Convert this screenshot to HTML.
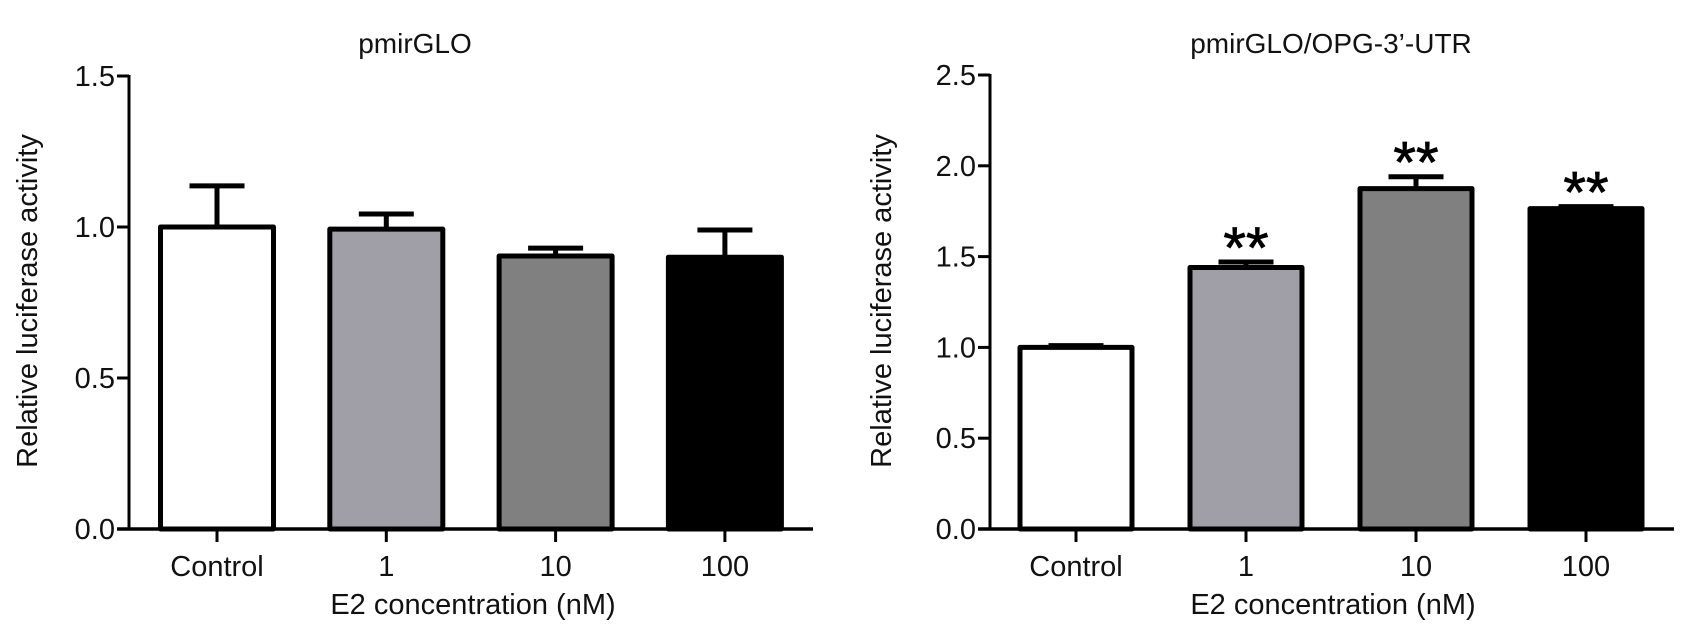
<!DOCTYPE html>
<html><head><meta charset="utf-8"><style>
html,body{margin:0;padding:0;background:#fff;}
svg{display:block;font-family:"Liberation Sans",Arial,sans-serif;}
</style></head><body>
<svg id="chart" width="1685" height="637" viewBox="0 0 1685 637" xmlns="http://www.w3.org/2000/svg"></svg>
<script>
const categories = ["Control","1","10","100"];
const leftValues = [1.0, 0.993, 0.904, 0.90];
const leftErrors = [1.136, 1.043, 0.93, 0.99];
const leftTicks = [0.0, 0.5, 1.0, 1.5];
const rightValues = [1.0, 1.44, 1.874, 1.764];
const rightErrors = [1.01, 1.47, 1.94, 1.775];
const rightTicks = [0.0, 0.5, 1.0, 1.5, 2.0, 2.5];
const rightSig = ["", "**", "**", "**"];
const fills = ["#ffffff","#a09fa7","#808080","#000000"];

const NS="http://www.w3.org/2000/svg";
const svg=document.getElementById('chart');
function mk(tag,attrs,parent){const e=document.createElementNS(NS,tag);for(const k in attrs)e.setAttribute(k,attrs[k]);(parent||svg).appendChild(e);return e;}

function panel(cfg){
  const g=mk('g',{});
  
  
  const y=v=>cfg.y0-(v/cfg.max)*(cfg.y0-cfg.yTop);
  const xc=i=>cfg.xFirst+i*cfg.step;
  const t=mk('text',{x:cfg.titleX,y:53,'text-anchor':'middle','font-size':28,fill:'#111'},g);
  t.textContent=cfg.title;
  
  
  cfg.values.forEach((v,i)=>{
    const cx=xc(i), w=cfg.barW;
    const e=cfg.errors[i];
    const eb=mk('path',{d:`M${cx} ${y(v)} V${y(e)} M${cx-cfg.capW/2} ${y(e)} H${cx+cfg.capW/2}`,stroke:'#000','stroke-width':5,fill:'none'},g);
    
    
    const r=mk('rect',{x:cx-w/2+2.5,y:y(v),width:w-5,height:cfg.y0-y(v),fill:fills[i],stroke:'#000','stroke-width':5,'stroke-linejoin':'round'},g);
    
    
    if(cfg.sig && cfg.sig[i]){
      const s=mk('text',{x:cx,y:y(e)+6,'text-anchor':'middle','font-size':58,fill:'#000',stroke:'#000','stroke-width':0.8},g);
      s.textContent=cfg.sig[i];
      
      
    }
    const tk=mk('line',{x1:cx,x2:cx,y1:cfg.y0,y2:cfg.y0+13,stroke:'#000','stroke-width':3},g);
    
    
    const lb=mk('text',{x:cx,y:576,'text-anchor':'middle','font-size':29,fill:'#111'},g);
    lb.textContent=categories[i];
    
    
  });
  const ya=mk('line',{x1:cfg.axisX,x2:cfg.axisX,y1:cfg.yTop-1,y2:cfg.y0+1.5,stroke:'#000','stroke-width':3},g);
  
  
  const xa=mk('line',{x1:cfg.axisX-12,x2:cfg.xEnd,y1:cfg.y0,y2:cfg.y0,stroke:'#000','stroke-width':3.5},g);
  
  
  cfg.ticks.forEach(v=>{
    const tk=mk('line',{x1:cfg.axisX-12,x2:cfg.axisX,y1:y(v),y2:y(v),stroke:'#000','stroke-width':3},g);
    
    
    const tl=mk('text',{x:cfg.axisX-14,y:y(v)+10,'text-anchor':'end','font-size':29,fill:'#111'},g);
    tl.textContent=v.toFixed(1);
    
    
  });
  const yt=mk('text',{x:0,y:0,'text-anchor':'middle','font-size':29,fill:'#111',transform:`translate(${cfg.yTitleX},301) rotate(-90)`},g);
  yt.textContent='Relative luciferase activity';
  
  
  const xt=mk('text',{x:cfg.xTitleX,y:614,'text-anchor':'middle','font-size':29,fill:'#111'},g);
  xt.textContent='E2 concentration (nM)';
  
  
}

panel({name:'left-panel',title:'pmirGLO',titleX:415,values:leftValues,errors:leftErrors,ticks:leftTicks,max:1.5,
  y0:529,yTop:76,axisX:129,xFirst:217,step:169.3,barW:118,capW:55,xEnd:813,yTitleX:37,xTitleX:473});
panel({name:'right-panel',title:'pmirGLO/OPG-3\u2019-UTR',titleX:1331,values:rightValues,errors:rightErrors,ticks:rightTicks,max:2.5,sig:rightSig,
  y0:529,yTop:75,axisX:990,xFirst:1076,step:170,barW:117,capW:55,xEnd:1674,yTitleX:891,xTitleX:1333});
</script>
</body></html>
